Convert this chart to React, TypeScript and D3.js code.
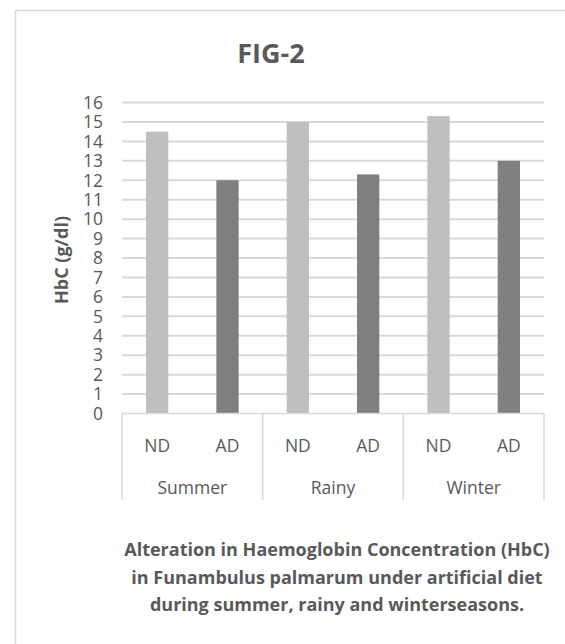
import React from "react";
import * as d3 from "d3";

const seasons = ["Summer", "Rainy", "Winter"];
const groups = ["ND", "AD"];
const ndValues = [14.5, 15.0, 15.3];
const adValues = [12.0, 12.3, 13.0];
const yTicks = d3.range(0, 17);
const captionLines = [
  "Alteration in Haemoglobin Concentration (HbC)",
  "in Funambulus palmarum under artificial diet",
  "during summer, rainy and winterseasons.",
];

const groupColors: Record<string, string> = { ND: "#bfbfbf", AD: "#7f7f7f" };
const textColor = "#595959";
const gridColor = "#d9d9d9";
const font = "'Open Sans', sans-serif";

const W = 565;
const H = 644;
const plot = { left: 122, right: 544, top: 102.5, bottom: 413.5 };

const App: React.FC = () => {
  const x0 = d3.scaleBand<string>().domain(seasons).range([plot.left, plot.right]);
  const x1 = d3
    .scaleBand<string>()
    .domain(groups)
    .range([0, x0.bandwidth()])
    .paddingInner(0.683)
    .paddingOuter(0.3415);
  const y = d3.scaleLinear().domain([0, 16]).range([plot.bottom, plot.top]);

  const bars = seasons.flatMap((s, i) => [
    { season: s, group: "ND", value: ndValues[i] },
    { season: s, group: "AD", value: adValues[i] },
  ]);

  const axisBottom = 500;

  return (
    <svg
      width={W}
      height={H}
      style={{ position: "absolute", left: 0, top: 0, background: "#fff" }}
    >
      {/* chart frame */}
      <line x1={15.5} y1={10.5} x2={W} y2={10.5} stroke={gridColor} strokeWidth={1.5} />
      <line x1={15.5} y1={10.5} x2={15.5} y2={H} stroke={gridColor} strokeWidth={1.5} />

      <text
        x={271}
        y={63}
        textAnchor="middle"
        fontFamily={font}
        fontWeight="bold"
        fontSize={27}
        fill={textColor}
      >
        FIG-2
      </text>

      {/* gridlines + tick labels */}
      {yTicks.map((t) => (
        <g key={t}>
          {t > 0 && (
            <line
              x1={plot.left}
              x2={plot.right}
              y1={y(t)}
              y2={y(t)}
              stroke={gridColor}
              strokeWidth={2}
            />
          )}
          <text
            x={103}
            y={y(t)}
            dy="0.36em"
            textAnchor="end"
            fontFamily={font}
            fontSize={17.5}
            fill={textColor}
          >
            {t}
          </text>
        </g>
      ))}

      {/* bars */}
      {bars.map((d) => (
        <rect
          key={d.season + d.group}
          x={(x0(d.season) || 0) + (x1(d.group) || 0)}
          width={x1.bandwidth()}
          y={y(d.value)}
          height={y(0) - y(d.value)}
          fill={groupColors[d.group]}
        />
      ))}

      {/* category axis */}
      <line x1={plot.left} x2={plot.right} y1={y(0)} y2={y(0)} stroke={gridColor} strokeWidth={1.5} />
      {[...seasons.map((s) => x0(s) || 0), plot.right].map((xv, i) => (
        <line key={i} x1={xv} x2={xv} y1={y(0)} y2={axisBottom} stroke={gridColor} strokeWidth={1.5} />
      ))}
      {bars.map((d) => (
        <text
          key={"l" + d.season + d.group}
          x={(x0(d.season) || 0) + (x1(d.group) || 0) + x1.bandwidth() / 2}
          y={445.5}
          dy="0.36em"
          textAnchor="middle"
          fontFamily={font}
          fontSize={17.5}
          fill={textColor}
        >
          {d.group}
        </text>
      ))}
      {seasons.map((s) => (
        <text
          key={s}
          x={(x0(s) || 0) + x0.bandwidth() / 2}
          y={488}
          dy="0.36em"
          textAnchor="middle"
          fontFamily={font}
          fontSize={17.5}
          fill={textColor}
        >
          {s}
        </text>
      ))}

      {/* y axis title */}
      <text
        transform={`translate(68,260) rotate(-90)`}
        textAnchor="middle"
        fontFamily={font}
        fontWeight="bold"
        fontSize={18}
        fill={textColor}
      >
        HbC (g/dl)
      </text>

      {/* caption */}
      {captionLines.map((line, i) => (
        <text
          key={i}
          x={337}
          y={550 + i * 27.5}
          dy="0.36em"
          textAnchor="middle"
          fontFamily={font}
          fontWeight="bold"
          fontSize={18}
          fill={textColor}
        >
          {line}
        </text>
      ))}
    </svg>
  );
};

export default App;
